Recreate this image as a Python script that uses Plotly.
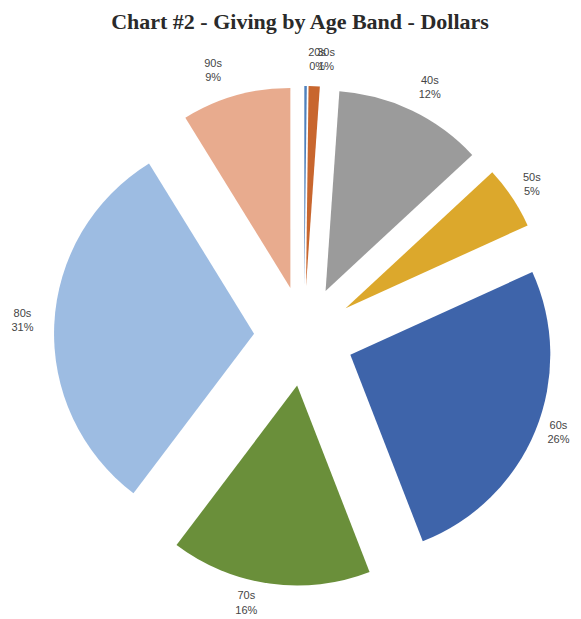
import plotly.graph_objects as go

age_bands = ["20s", "30s", "40s", "50s", "60s", "70s", "80s", "90s"]
share_pct = [0.2, 0.9, 12.0, 5.1, 25.9, 16.2, 30.9, 8.8]
slice_colors = ["#4F81BD", "#C8662E", "#9B9B9B", "#DCA82C", "#3E64AA", "#6A8F3A", "#9DBCE2", "#E8AB8E"]

W, H = 581, 619
cx, cy, box = 296, 328, 500
label_cx, label_cy, label_box = 292, 324, 520
explode = 0.25


def dom(c_x, c_y, b):
    return dict(x=[max(0, (c_x - b / 2) / W), min(1, (c_x + b / 2) / W)],
                y=[max(0, 1 - (c_y + b / 2) / H), min(1, 1 - (c_y - b / 2) / H)])


common = dict(
    labels=age_bands,
    values=share_pct,
    sort=False,
    direction="clockwise",
    rotation=0,
    pull=[explode] * len(age_bands),
    automargin=False,
    showlegend=False,
)
label_font = dict(family="Liberation Sans, Arial, sans-serif", size=11, color="#454545")
tmpl = "%{label}<br>%{percent:.0%}"

# coloured, exploded slices
fig = go.Figure(go.Pie(
    **common,
    marker=dict(colors=slice_colors, line=dict(width=0)),
    textinfo="none",
    hoverinfo="label+percent",
    domain=dom(cx, cy, box),
))

# transparent companion pies that carry the outside labels
# (the 20s label sits on its own layer so it overlaps the 30s label, as in the original)
for keep in (lambda i: i != 0, lambda i: i == 0):
    fig.add_trace(go.Pie(
        **common,
        marker=dict(colors=["rgba(0,0,0,0)"] * len(age_bands), line=dict(width=0)),
        textposition="outside",
        texttemplate=[tmpl if keep(i) else "" for i in range(len(age_bands))],
        textfont=label_font,
        outsidetextfont=label_font,
        hoverinfo="skip",
        domain=dom(label_cx, label_cy, label_box),
    ))

fig.update_layout(
    width=W, height=H,
    autosize=False,
    margin=dict(l=0, r=0, t=0, b=0, pad=0, autoexpand=False),
    paper_bgcolor="white",
    plot_bgcolor="white",
    title=dict(text="<b>Chart #2 - Giving by Age Band - Dollars</b>",
               x=292 / W, xanchor="center", y=1 - 13 / H, yanchor="middle",
               font=dict(family="Liberation Serif, Times New Roman, serif", size=22, color="#2a2a2a")),
)

fig.write_html("out.html")
